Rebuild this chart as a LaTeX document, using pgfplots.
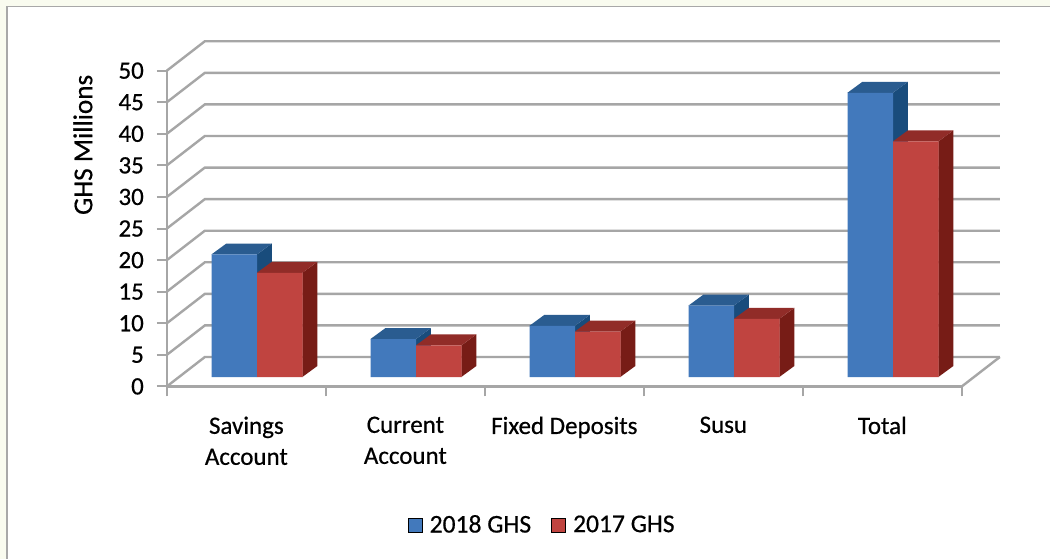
\documentclass[border=0pt]{standalone}
\usepackage{pgfplots}
\usepackage{pgfplotstable}
\pgfplotsset{compat=1.18}
\usepackage{fontspec}
\setmainfont{Carlito}[FakeBold=0.55]
\definecolor{cream}{HTML}{F9FBEF}
\definecolor{frame}{HTML}{A8A8A8}
\definecolor{gridc}{HTML}{A6A6A6}
\definecolor{bluef}{HTML}{4279BC}
\definecolor{bluet}{HTML}{2A5C90}
\definecolor{blues}{HTML}{194C7C}
\definecolor{redf}{HTML}{C04440}
\definecolor{redt}{HTML}{912C28}
\definecolor{reds}{HTML}{771C16}

% one picture pixel = 0.5pt
\pgfplotstableread{
x    y2018 y2017
0.5  19.4  16.5
1.5  6.0   5.0
2.5  8.1   7.2
3.5  11.3  9.2
4.5  45.0  37.3
}\deposits

% depth of the floor and wall, in axis units
\def\wallx{0.2388}
\def\wally{4.652}

\newcommand{\barback}[4]{% column, x offset of front left, top colour, side colour
  \pgfplotsforeachungrouped \r in {0,...,4}{%
    \pgfplotstablegetelem{\r}{x}\of{\deposits}\let\cx\pgfplotsretval
    \pgfplotstablegetelem{\r}{#1}\of{\deposits}\let\cv\pgfplotsretval
    \pgfmathsetmacro\xa{\cx+#2}
    \pgfmathsetmacro\xb{\xa+0.2860}
    \pgfmathsetmacro\xc{\xb+0.0943}
    \pgfmathsetmacro\xd{\xa+0.0943}
    \pgfmathsetmacro\ya{\cv+1.487}
    \pgfmathsetmacro\yb{\ya+1.74}
    \addplot[forget plot,fill=#4,draw=none] coordinates {(\xb,1.487) (\xc,3.227) (\xc,\yb) (\xb,\ya)} -- cycle;
    \addplot[forget plot,fill=#3,draw=none] coordinates {(\xa,\ya) (\xd,\yb) (\xc,\yb) (\xb,\ya)} -- cycle;
  }%
}

\begin{document}
\begin{tikzpicture}
\fill[cream] (-83.5pt,-86.15pt) rectangle (442pt,193.35pt);
\fill[white] (-80pt,-86.15pt) rectangle (442pt,190pt);
\draw[frame,line width=0.8pt] (-80pt,-86.15pt) -- (-80pt,190pt) -- (442pt,190pt);
\begin{axis}[
    scale only axis,
    width=397.8pt, height=158pt,
    xmin=0, xmax=5, ymin=0, ymax=50,
    axis x line*=bottom, axis y line*=left,
    axis line style={gridc,line width=1.2pt,-},
    clip=false,
    ytick={0,5,...,50},
    xtick={0.5,1.5,2.5,3.5,4.5},
    xticklabels={{Savings\\Account},{Current\\Account},{Fixed Deposits},{Susu},{Total}},
    minor xtick={0,1,2,3,4,5},
    major x tick style={draw=none},
    minor x tick style={gridc,line width=1pt},
    minor tick length=5pt,
    y tick style={gridc,line width=1pt},
    major tick length=5pt,
    tick align=outside,
    tick label style={font=\fontsize{12.5}{15.5}\selectfont},
    /pgf/number format/assume math mode=true,
    xticklabel style={align=center,anchor=north,yshift=-6.6pt},
    yticklabel style={xshift=-3pt},
    ylabel={GHS Millions},
    ylabel style={at={(axis description cs:-0.1057,0.765)},anchor=center,font=\fontsize{13.6}{15}\selectfont},
    legend columns=2,
    legend style={draw=none,fill=none,at={(axis description cs:0.4753,-0.44)},anchor=center,
      font=\fontsize{12.8}{15}\selectfont,/tikz/every even column/.append style={column sep=6.5pt},
      nodes={inner xsep=3.55pt}},
    legend image code/.code={\fill[#1] (0pt,-3.5pt) rectangle (7pt,3.5pt);},
]
% wall and floor lines
\pgfplotsforeachungrouped \v in {0,5,...,50}{%
  \pgfmathsetmacro\vb{\v+\wally}
  \addplot[forget plot,gridc,line width=1.2pt] coordinates {(0,\v) (\wallx,\vb) (5.2388,\vb)};
}
\addplot[forget plot,gridc,line width=1.2pt] coordinates {(5,0) (5.2388,4.652)};

\barback{y2018}{-0.2200}{bluet}{blues}
\barback{y2017}{0.0660}{redt}{reds}

\addplot[forget plot,ybar,bar width=22.75pt,bar shift=-5.95pt,yshift=4.7pt,fill=bluef,draw=none] table[x=x,y=y2018] {\deposits};
\addplot[forget plot,ybar,bar width=22.75pt,bar shift=16.8pt,yshift=4.7pt,fill=redf,draw=none] table[x=x,y=y2017] {\deposits};

\addlegendimage{fill=bluef}
\addlegendentry{2018 GHS}
\addlegendimage{fill=redf}
\addlegendentry{2017 GHS}
\end{axis}
\end{tikzpicture}
\end{document}
